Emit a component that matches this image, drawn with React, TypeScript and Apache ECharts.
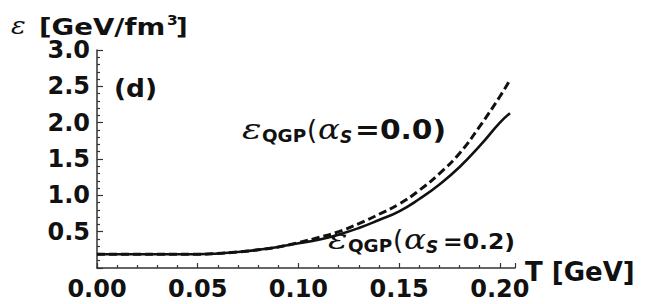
import React, { useEffect, useRef } from "react";
import * as echarts from "echarts";

const temperatures = [0, 0.01, 0.02, 0.03, 0.04, 0.05, 0.06, 0.07, 0.08, 0.09, 0.1, 0.11, 0.12, 0.13, 0.14, 0.15, 0.16, 0.17, 0.18, 0.19, 0.2, 0.205];
const epsAlpha00 = [0.19, 0.19, 0.19, 0.19, 0.19, 0.19, 0.2, 0.22, 0.25, 0.29, 0.35, 0.42, 0.5, 0.61, 0.74, 0.88, 1.07, 1.3, 1.58, 1.95, 2.36, 2.59];
const epsAlpha02 = [0.19, 0.19, 0.19, 0.19, 0.19, 0.19, 0.2, 0.22, 0.25, 0.29, 0.34, 0.39, 0.46, 0.55, 0.66, 0.78, 0.95, 1.15, 1.39, 1.68, 2.0, 2.13];
const xTicks = [0, 0.05, 0.1, 0.15, 0.2];
const yTicks = [0.5, 1.0, 1.5, 2.0, 2.5, 3.0];

const INK = "#111";
const SANS = "DejaVu Sans";
const SERIF = "DejaVu Serif";

type Tok = {
  text: string;
  x: number;
  base: number;
  size: number;
  family?: string;
  weight?: string;
  italic?: boolean;
  sx?: number;
};

function tok(t: Tok) {
  return {
    type: "text",
    x: t.x,
    y: t.base - 0.35 * t.size,
    scaleX: t.sx ?? 1,
    silent: true,
    style: {
      text: t.text,
      fontFamily: t.family ?? SANS,
      fontWeight: t.weight ?? "bold",
      fontStyle: t.italic ? "italic" : "normal",
      fontSize: t.size,
      fill: INK,
      align: "left",
      verticalAlign: "middle",
    },
  };
}

function curveLabel(value: string, x0: number, base: number, numSize: number, numSx: number, numX: number) {
  return [
    tok({ text: "ε", x: x0, base, size: 27, family: SERIF, weight: "normal", italic: true, sx: 1.35 }),
    tok({ text: "QGP", x: x0 + 20, base: base + 3, size: 17, sx: 1.08 }),
    tok({ text: "(", x: x0 + 65, base, size: 26, weight: "normal" }),
    tok({ text: "α", x: x0 + 76, base, size: 27, family: SERIF, weight: "normal", italic: true, sx: 1.2 }),
    tok({ text: "S", x: x0 + 98, base: base + 4, size: 17, italic: true }),
    tok({ text: `=${value})`, x: numX, base, size: numSize, sx: numSx }),
  ];
}

export default function App() {
  const ref = useRef<HTMLDivElement>(null);
  useEffect(() => {
    if (!ref.current) return;
    const chart = echarts.init(ref.current, null, { renderer: "svg" });
    const tickLine = { color: "#333", width: 1.2 };
    chart.setOption({
      animation: false,
      backgroundColor: "#fff",
      grid: { left: 97, right: 154, top: 50, bottom: 36 },
      xAxis: {
        type: "value",
        min: 0,
        max: 0.2075,
        interval: 0.05,
        axisLine: { show: true, onZero: false, lineStyle: { color: "#333", width: 1.5 } },
        axisTick: { show: true, inside: true, length: 5, lineStyle: tickLine },
        minorTick: { show: true, splitNumber: 5, length: 3, lineStyle: tickLine },
        splitLine: { show: false },
        axisLabel: {
          margin: 9,
          fontFamily: SANS,
          fontWeight: "bold",
          fontSize: 24,
          color: INK,
          formatter: (v: number) => (xTicks.some((t) => Math.abs(t - v) < 1e-6) ? v.toFixed(2) : ""),
        },
      },
      yAxis: {
        type: "value",
        min: 0,
        max: 3,
        interval: 0.5,
        axisLine: { show: true, onZero: false, lineStyle: { color: "#333", width: 1.5 } },
        axisTick: { show: true, inside: true, length: 6, lineStyle: tickLine },
        minorTick: { show: true, splitNumber: 5, length: 3, lineStyle: tickLine },
        splitLine: { show: false },
        axisLabel: {
          margin: 7,
          fontFamily: SANS,
          fontWeight: "bold",
          fontSize: 24,
          color: INK,
          formatter: (v: number) => (yTicks.some((t) => Math.abs(t - v) < 1e-6) ? v.toFixed(1) : ""),
        },
      },
      series: [
        {
          type: "line",
          name: "alphaS=0.0",
          data: temperatures.map((t, i) => [t, epsAlpha00[i]]),
          showSymbol: false,
          smooth: true,
          lineStyle: { color: INK, width: 3, type: [8, 4] },
        },
        {
          type: "line",
          name: "alphaS=0.2",
          data: temperatures.map((t, i) => [t, epsAlpha02[i]]),
          showSymbol: false,
          smooth: true,
          lineStyle: { color: INK, width: 2.6 },
        },
      ],
      graphic: [
        // y-axis name
        tok({ text: "ε", x: 11, base: 34, size: 25, family: SERIF, weight: "normal", italic: true, sx: 1.1 }),
        tok({ text: "[GeV/fm", x: 39, base: 35, size: 23, sx: 1.2 }),
        tok({ text: "3", x: 167, base: 25, size: 14, sx: 1.1 }),
        tok({ text: "]", x: 176, base: 35, size: 23, sx: 1.1 }),
        // panel tag
        tok({ text: "(d)", x: 114, base: 97, size: 24, sx: 1.1 }),
        // curve labels
        ...curveLabel("0.0", 242, 139, 27, 1.1, 355),
        ...curveLabel("0.2", 328, 249, 21, 1.12, 443),
        // x-axis name
        tok({ text: "T [GeV]", x: 525, base: 281, size: 26 }),
      ],
    });
    return () => chart.dispose();
  }, []);
  return <div ref={ref} style={{ position: "fixed", left: 0, top: 0, width: 669, height: 304, background: "#fff" }} />;
}
